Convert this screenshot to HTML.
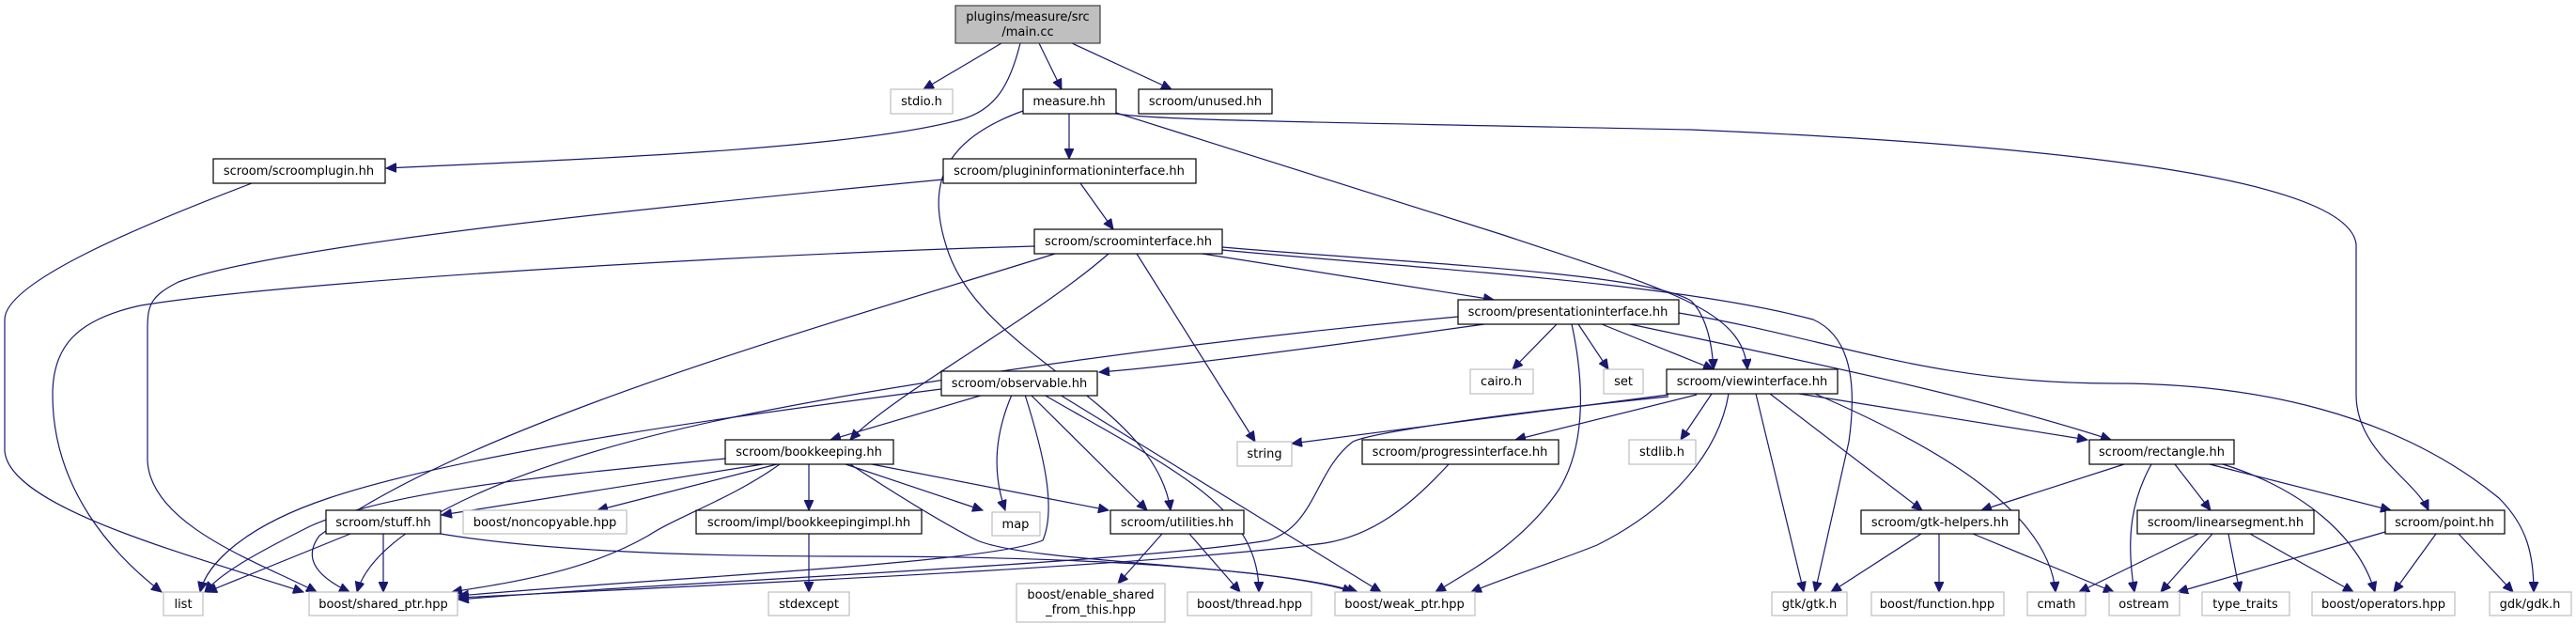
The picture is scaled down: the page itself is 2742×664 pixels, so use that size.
<!DOCTYPE html>
<html><head><meta charset="utf-8"><style>
html,body{margin:0;padding:0;background:#fff;}
svg{display:block;}
text{font-family:"DejaVu Sans","Liberation Sans",sans-serif;font-size:13px;fill:#000;text-anchor:middle;}
.e{fill:none;stroke:#191970;stroke-width:1.2;marker-end:url(#a);}
.n{fill:#fff;stroke:#000;stroke-width:1.2;}
.g{fill:#fff;stroke:#bfbfbf;stroke-width:1.2;}
</style></head><body>
<svg width="2742" height="664" viewBox="0 0 2742 664" xmlns="http://www.w3.org/2000/svg">
<defs><marker id="a" markerUnits="userSpaceOnUse" markerWidth="12" markerHeight="10" refX="11" refY="5" orient="auto"><path d="M0,0 L11,5 L0,10 z" fill="#191970" stroke="#191970"/></marker></defs>
<!-- edges -->
<path class="e" d="M1066,46 L983,95"/>
<path class="e" d="M1086,46 C1075,90 1060,118 1020,128 C900,160 600,170 411,179"/>
<path class="e" d="M1106,46 L1130,95"/>
<path class="e" d="M1141,46 L1247,95"/>
<path class="e" d="M1138,121 L1138,169"/>
<path class="e" d="M1089,118 C1000,150 985,200 1010,270 C1050,380 1230,430 1246,543"/>
<path class="e" d="M1188,120 L1600,250 C1780,310 1855,330 1860,393"/>
<path class="e" d="M1188,121 C1230,128 1400,130 1800,138 C2200,155 2500,190 2508,260 L2508,420 C2508,480 2570,510 2585,543"/>
<path class="e" d="M1150,195 L1185,244"/>
<path class="e" d="M1004,191 C700,220 300,260 190,300 C160,315 157,325 157,350 L157,490 C160,560 280,600 337,630"/>
<path class="e" d="M268,195 C150,240 5,300 5,340 L5,480 C10,540 200,590 323,630"/>
<path class="e" d="M1101,262 C800,270 300,300 150,325 C80,340 56,370 56,420 C56,520 120,590 172,630"/>
<path class="e" d="M1123,270 C900,340 500,450 340,570 C325,590 330,610 372,630"/>
<path class="e" d="M1180,270 C1100,340 950,420 905,468"/>
<path class="e" d="M1210,270 L1336,470"/>
<path class="e" d="M1280,270 L1590,319"/>
<path class="e" d="M1301,263 C1500,280 1750,290 1800,320 C1815,335 1822,360 1824,393"/>
<path class="e" d="M1301,266 C1500,285 1780,300 1930,340 C1975,360 1975,420 1968,470 L1932,630"/>
<path class="e" d="M1580,345 C1400,370 1250,390 1170,396"/>
<path class="e" d="M1552,337 C1300,360 1000,400 800,440 C550,490 400,560 380,630"/>
<path class="e" d="M1657,345 L1610,393"/>
<path class="e" d="M1680,345 L1712,393"/>
<path class="e" d="M1673,345 C1685,400 1690,470 1660,520 C1620,580 1560,610 1528,630"/>
<path class="e" d="M1705,345 L1824,393"/>
<path class="e" d="M1735,345 C1900,380 2100,420 2247,468"/>
<path class="e" d="M1787,333 C1950,360 2050,408 2250,408 C2400,408 2550,440 2660,530 C2690,560 2697,590 2697,630"/>
<path class="e" d="M1776,420 L1375,472"/>
<path class="e" d="M1776,422 C1600,440 1460,460 1440,470 C1400,500 1400,560 1350,575 C1200,600 700,620 488,638"/>
<path class="e" d="M1806,420 L1613,468"/>
<path class="e" d="M1822,419 L1789,468"/>
<path class="e" d="M1840,419 C1830,480 1780,540 1700,580 C1650,600 1600,615 1566,630"/>
<path class="e" d="M1869,419 L1920,630"/>
<path class="e" d="M1884,419 L2046,543"/>
<path class="e" d="M1932,419 C2050,470 2180,540 2188,630"/>
<path class="e" d="M1915,419 L2222,468"/>
<path class="e" d="M1542,494 C1500,540 1460,570 1410,578 C1200,605 700,625 488,636"/>
<path class="e" d="M2261,494 L2109,543"/>
<path class="e" d="M2290,494 C2270,530 2262,570 2272,630"/>
<path class="e" d="M2315,494 L2353,543"/>
<path class="e" d="M2352,494 L2545,543"/>
<path class="e" d="M2366,494 C2450,520 2510,570 2528,630"/>
<path class="e" d="M2045,568 L1949,630"/>
<path class="e" d="M2064,568 L2064,630"/>
<path class="e" d="M2100,568 L2250,630"/>
<path class="e" d="M2340,568 L2213,630"/>
<path class="e" d="M2355,568 L2300,630"/>
<path class="e" d="M2372,568 L2384,630"/>
<path class="e" d="M2395,568 L2505,630"/>
<path class="e" d="M2539,566 L2318,630"/>
<path class="e" d="M2593,568 L2548,630"/>
<path class="e" d="M2617,568 L2675,630"/>
<path class="e" d="M1047,420 L884,468"/>
<path class="e" d="M1077,420 C1060,460 1055,500 1070,543"/>
<path class="e" d="M1091,420 C1110,480 1125,540 1110,575 C1050,600 700,615 488,634"/>
<path class="e" d="M1097,420 L1221,543"/>
<path class="e" d="M1111,420 C1250,500 1340,540 1340,630"/>
<path class="e" d="M1128,420 L1470,630"/>
<path class="e" d="M1002,414 C800,440 500,480 350,530 C260,560 220,600 213,630"/>
<path class="e" d="M772,488 C600,505 420,520 330,560 C270,590 235,610 218,630"/>
<path class="e" d="M812,494 L470,548"/>
<path class="e" d="M827,494 L636,543"/>
<path class="e" d="M830,494 C780,530 720,550 690,570 C620,610 540,620 481,630"/>
<path class="e" d="M861,494 L861,543"/>
<path class="e" d="M900,494 L1046,543"/>
<path class="e" d="M928,494 L1180,543"/>
<path class="e" d="M905,494 C960,530 1010,560 1040,575 C1100,600 1350,600 1445,630"/>
<path class="e" d="M373,568 L220,630"/>
<path class="e" d="M408,568 L408,630"/>
<path class="e" d="M469,568 C600,590 800,592 900,592 C1200,592 1380,610 1440,630"/>
<path class="e" d="M861,568 L861,630"/>
<path class="e" d="M1237,568 L1190,621"/>
<path class="e" d="M1266,568 L1320,630"/>
<!-- nodes -->
<rect x="1017" y="6" width="154" height="40" fill="#bfbfbf" stroke="#404040" stroke-width="1.2"/>
<text x="1094" y="22">plugins/measure/src</text><text x="1094" y="38">/main.cc</text>
<rect class="g" x="948" y="95" width="66" height="26"/><text x="981" y="112">stdio.h</text>
<rect class="n" x="1089" y="95" width="99" height="26"/><text x="1138" y="112">measure.hh</text>
<rect class="n" x="1212" y="95" width="142" height="26"/><text x="1283" y="112">scroom/unused.hh</text>
<rect class="n" x="227" y="169" width="183" height="26"/><text x="318" y="186">scroom/scroomplugin.hh</text>
<rect class="n" x="1004" y="169" width="269" height="26"/><text x="1138" y="186">scroom/plugininformationinterface.hh</text>
<rect class="n" x="1101" y="244" width="200" height="26"/><text x="1201" y="261">scroom/scroominterface.hh</text>
<rect class="n" x="1552" y="319" width="235" height="26"/><text x="1669" y="336">scroom/presentationinterface.hh</text>
<rect class="n" x="1002" y="395" width="166" height="26"/><text x="1085" y="412">scroom/observable.hh</text>
<rect class="g" x="1565" y="393" width="67" height="26"/><text x="1598" y="410">cairo.h</text>
<rect class="g" x="1707" y="393" width="42" height="26"/><text x="1728" y="410">set</text>
<rect class="n" x="1774" y="393" width="182" height="26"/><text x="1865" y="410">scroom/viewinterface.hh</text>
<rect class="n" x="772" y="468" width="179" height="26"/><text x="861" y="485">scroom/bookkeeping.hh</text>
<rect class="g" x="1317" y="470" width="58" height="26"/><text x="1346" y="487">string</text>
<rect class="n" x="1450" y="468" width="209" height="26"/><text x="1554" y="485">scroom/progressinterface.hh</text>
<rect class="g" x="1734" y="468" width="71" height="26"/><text x="1769" y="485">stdlib.h</text>
<rect class="n" x="2224" y="468" width="154" height="26"/><text x="2301" y="485">scroom/rectangle.hh</text>
<rect class="n" x="347" y="543" width="122" height="25"/><text x="408" y="560">scroom/stuff.hh</text>
<rect class="g" x="493" y="543" width="174" height="25"/><text x="580" y="560">boost/noncopyable.hpp</text>
<rect class="n" x="741" y="543" width="240" height="25"/><text x="861" y="560">scroom/impl/bookkeepingimpl.hh</text>
<rect class="g" x="1056" y="545" width="51" height="25"/><text x="1081" y="562">map</text>
<rect class="n" x="1182" y="543" width="142" height="25"/><text x="1253" y="560">scroom/utilities.hh</text>
<rect class="n" x="1981" y="543" width="168" height="25"/><text x="2065" y="560">scroom/gtk-helpers.hh</text>
<rect class="n" x="2275" y="543" width="188" height="25"/><text x="2369" y="560">scroom/linearsegment.hh</text>
<rect class="n" x="2539" y="543" width="127" height="25"/><text x="2602" y="560">scroom/point.hh</text>
<rect class="g" x="174" y="630" width="42" height="25"/><text x="195" y="647">list</text>
<rect class="g" x="329" y="630" width="158" height="25"/><text x="408" y="647">boost/shared_ptr.hpp</text>
<rect class="g" x="818" y="630" width="86" height="25"/><text x="861" y="647">stdexcept</text>
<rect class="g" x="1082" y="621" width="158" height="41"/><text x="1161" y="637">boost/enable_shared</text><text x="1161" y="653">_from_this.hpp</text>
<rect class="g" x="1264" y="630" width="132" height="25"/><text x="1330" y="647">boost/thread.hpp</text>
<rect class="g" x="1421" y="630" width="149" height="25"/><text x="1495" y="647">boost/weak_ptr.hpp</text>
<rect class="g" x="1886" y="630" width="80" height="25"/><text x="1926" y="647">gtk/gtk.h</text>
<rect class="g" x="1992" y="630" width="141" height="25"/><text x="2062" y="647">boost/function.hpp</text>
<rect class="g" x="2158" y="630" width="62" height="25"/><text x="2189" y="647">cmath</text>
<rect class="g" x="2245" y="630" width="75" height="25"/><text x="2282" y="647">ostream</text>
<rect class="g" x="2344" y="630" width="93" height="25"/><text x="2390" y="647">type_traits</text>
<rect class="g" x="2461" y="630" width="152" height="25"/><text x="2537" y="647">boost/operators.hpp</text>
<rect class="g" x="2650" y="630" width="87" height="25"/><text x="2693" y="647">gdk/gdk.h</text>
</svg>
</body></html>
